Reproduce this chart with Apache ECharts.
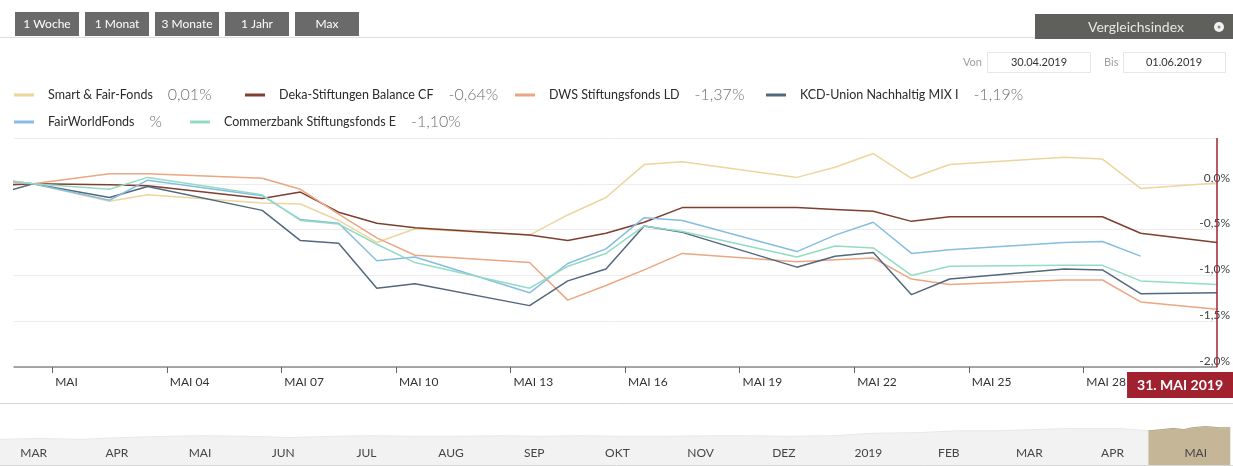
<!DOCTYPE html>
<html>
<head>
<meta charset="utf-8">
<title>Fondsvergleich</title>
<script src="https://cdn.jsdelivr.net/npm/echarts@6/dist/echarts.min.js"></script>
<style>
  html, body { margin: 0; padding: 0; background: #fff; }
  #chart { width: 1233px; height: 466px; }
</style>
</head>
<body>
<div id="chart"></div>
<script>
// Handelstage, Wertentwicklung in % (30.04.2019 = 0)
var dates = ['2019-04-29','2019-04-30','2019-05-02','2019-05-03','2019-05-06','2019-05-07','2019-05-08',
  '2019-05-09','2019-05-10','2019-05-13','2019-05-14','2019-05-15','2019-05-16','2019-05-17','2019-05-20',
  '2019-05-21','2019-05-22','2019-05-23','2019-05-24','2019-05-27','2019-05-28','2019-05-29','2019-05-31'];

var smartFair   = [0.03, 0, -0.19, -0.12, -0.21, -0.22, -0.40, -0.64, -0.49, -0.56, -0.34, -0.15, 0.21, 0.24, 0.07, 0.18, 0.33, 0.06, 0.21, 0.29, 0.27, -0.05, 0.01];
var dekaBalance = [-0.02, 0, -0.01, -0.02, -0.16, -0.09, -0.31, -0.43, -0.48, -0.56, -0.62, -0.54, -0.42, -0.26, -0.26, -0.28, -0.30, -0.41, -0.36, -0.36, -0.36, -0.54, -0.64];
var dwsLD       = [0.02, 0, 0.11, 0.11, 0.06, -0.06, -0.33, -0.59, -0.78, -0.86, -1.27, -1.11, -0.94, -0.76, -0.85, -0.83, -0.81, -1.04, -1.10, -1.05, -1.05, -1.29, -1.37];
var kcdUnion    = [-0.12, 0, -0.15, -0.03, -0.29, -0.62, -0.65, -1.14, -1.09, -1.33, -1.06, -0.93, -0.46, -0.53, -0.91, -0.79, -0.75, -1.21, -1.04, -0.93, -0.94, -1.20, -1.19];
var fairWorld   = [0.05, 0, -0.18, 0.04, -0.13, -0.39, -0.43, -0.84, -0.80, -1.19, -0.87, -0.71, -0.37, -0.40, -0.74, -0.56, -0.42, -0.76, -0.72, -0.64, -0.63, -0.79, null];
var commerzbank = [0.06, 0, -0.06, 0.07, -0.12, -0.40, -0.44, -0.66, -0.86, -1.14, -0.90, -0.76, -0.46, -0.52, -0.80, -0.68, -0.70, -1.00, -0.90, -0.89, -0.89, -1.06, -1.10];

var seriesNames = ['Smart & Fair-Fonds', 'Deka-Stiftungen Balance CF', 'DWS Stiftungsfonds LD',
  'KCD-Union Nachhaltig MIX I', 'FairWorldFonds', 'Commerzbank Stiftungsfonds E'];
var seriesValues = [smartFair, dekaBalance, dwsLD, kcdUnion, fairWorld, commerzbank];
var legendValues = ['0,01%', '-0,64%', '-1,37%', '-1,19%', '%', '-1,10%'];
var seriesColors = ['#ecd69e', '#7e3f30', '#eba683', '#52687e', '#86bde0', '#93dbc4'];

var xTickDates  = ['2019-05-01','2019-05-04','2019-05-07','2019-05-10','2019-05-13','2019-05-16','2019-05-19','2019-05-22','2019-05-25','2019-05-28'];
var xTickLabels = ['MAI','MAI 04','MAI 07','MAI 10','MAI 13','MAI 16','MAI 19','MAI 22','MAI 25','MAI 28'];
var yTicks      = [-2, -1.5, -1, -0.5, 0, 0.5];
var yTickLabels = ['-2,0%', '-1,5%', '-1,0%', '-0,5%', '0,0%', ''];
var pointerLabel = '31. MAI 2019';

// Navigator (Gesamtverlauf)
var navDates = ['2018-03-06','2018-03-20','2018-04-05','2018-04-20','2018-05-05','2018-05-20','2018-06-05','2018-06-20',
  '2018-07-05','2018-07-20','2018-08-05','2018-08-20','2018-09-05','2018-09-20','2018-10-05','2018-10-20',
  '2018-11-05','2018-11-20','2018-12-05','2018-12-20','2019-01-05','2019-01-20','2019-02-05','2019-02-20',
  '2019-03-05','2019-03-20','2019-04-05','2019-04-20','2019-05-01','2019-05-06','2019-05-10','2019-05-14',
  '2019-05-17','2019-05-22','2019-05-27','2019-05-31'];
var navValues = [42, 43.5, 42, 45, 47, 48, 47, 45, 47, 48, 47, 47, 48, 47, 48, 47,
  47, 48, 48, 47, 48, 52, 53, 56, 56, 58, 60, 60, 56, 58, 60, 58, 61, 63, 61, 61];
var navMonths = ['2018-03-01','2018-04-01','2018-05-01','2018-06-01','2018-07-01','2018-08-01','2018-09-01','2018-10-01',
  '2018-11-01','2018-12-01','2019-01-01','2019-02-01','2019-03-01','2019-04-01','2019-05-01','2019-06-01'];
var navMonthLabels = ['MAR','APR','MAI','JUN','JUL','AUG','SEP','OKT','NOV','DEZ','2019','FEB','MAR','APR','MAI'];
var navStart = '2018-03-06', navEnd = '2019-06-01', selectedFrom = '2019-05-01';

var rangeButtons = ['1 Woche', '1 Monat', '3 Monate', '1 Jahr', 'Max'];

function dayOf(s) { return (Date.parse(s) - Date.parse('2019-05-01')) / 86400000; }

var xTicks = xTickDates.map(dayOf);
var lastX = dayOf(dates[dates.length - 1]) + 0.5;
var navMid = navMonthLabels.map(function (m, i) { return (dayOf(navMonths[i]) + dayOf(navMonths[i + 1])) / 2; });

var chart = echarts.init(document.getElementById('chart'));

var series = seriesNames.map(function (name, k) {
  var pts = [];
  dates.forEach(function (d, i) {
    if (seriesValues[k][i] != null) pts.push([dayOf(d) + 0.5, seriesValues[k][i]]);
  });
  return {
    name: name, type: 'line', data: pts, symbol: 'none', color: seriesColors[k],
    lineStyle: { width: 1.5 }, z: 3
  };
});

var navAll = navDates.map(function (d, i) { return [dayOf(d), navValues[i]]; });
var navSel = navAll.filter(function (p, i) { return navDates[i] >= selectedFrom; });
series.push({
  type: 'line', xAxisIndex: 1, yAxisIndex: 1, data: navAll, symbol: 'none', silent: true, z: 1,
  lineStyle: { color: '#e8e8e8', width: 1 }, areaStyle: { color: '#f2f2f2', opacity: 1 }
});
series.push({
  type: 'line', xAxisIndex: 1, yAxisIndex: 1, data: navSel, symbol: 'none', silent: true, z: 1,
  lineStyle: { color: '#b4a584', width: 1 }, areaStyle: { color: '#c4b697', opacity: 1 }
});

var legendPos = [[14, 87], [245, 87], [515, 87], [766, 87], [14, 114], [190, 114]];
var legends = seriesNames.map(function (name, k) {
  return {
    data: [name], left: legendPos[k][0], top: legendPos[k][1], padding: 0,
    icon: 'rect', itemWidth: 20, itemHeight: 3, selectedMode: false,
    formatter: function (n) { return '{n|' + n + '}{v|' + legendValues[seriesNames.indexOf(n)] + '}'; },
    textStyle: {
      rich: {
        n: { fontFamily: 'Lato', fontSize: 12.5, color: '#2b2b2b', padding: [0, 0, 0, 9] },
        v: { fontFamily: 'Lato', fontSize: 16, fontWeight: 300, color: '#707070', padding: [0, 0, 0, 15] }
      }
    }
  };
});

var graphics = [
  { type: 'line', shape: { x1: 0, y1: 37.5, x2: 1233, y2: 37.5 }, style: { stroke: '#dddddd', lineWidth: 1 } },
  { type: 'rect', shape: { x: 1035, y: 14, width: 198, height: 25 }, style: { fill: '#5f5f5b' } },
  { type: 'text', x: 1136, y: 27, style: { text: 'Vergleichsindex', fill: '#e6e6e6', font: '14px Lato', align: 'center', verticalAlign: 'middle' } },
  { type: 'circle', shape: { cx: 1219, cy: 27, r: 5 }, style: { fill: '#f2f2f2' } },
  { type: 'circle', shape: { cx: 1219, cy: 27, r: 1.5 }, style: { fill: '#8a8a8a' } },
  { type: 'text', x: 982, y: 62, style: { text: 'Von', fill: '#a0a0a0', font: '11px Lato', align: 'right', verticalAlign: 'middle' } },
  { type: 'rect', shape: { x: 987.5, y: 52.5, width: 103, height: 20 }, style: { fill: '#fff', stroke: '#e6e6e6' } },
  { type: 'text', x: 1039, y: 62.5, style: { text: '30.04.2019', fill: '#333', font: '11px Lato', align: 'center', verticalAlign: 'middle' } },
  { type: 'text', x: 1104, y: 62, style: { text: 'Bis', fill: '#a0a0a0', font: '11px Lato', align: 'left', verticalAlign: 'middle' } },
  { type: 'rect', shape: { x: 1123.5, y: 52.5, width: 102, height: 20 }, style: { fill: '#fff', stroke: '#e6e6e6' } },
  { type: 'text', x: 1174, y: 62.5, style: { text: '01.06.2019', fill: '#333', font: '11px Lato', align: 'center', verticalAlign: 'middle' } },
  { type: 'line', shape: { x1: 0, y1: 403.5, x2: 1233, y2: 403.5 }, style: { stroke: '#d6d6d6', lineWidth: 1 } }
];
rangeButtons.forEach(function (b, i) {
  graphics.push({ type: 'rect', shape: { x: 15 + i * 70, y: 12, width: 64, height: 24 }, style: { fill: '#6a6a6a' } });
  graphics.push({ type: 'text', x: 47 + i * 70, y: 24, style: { text: b, fill: '#ffffff', font: '12px Lato', align: 'center', verticalAlign: 'middle' } });
});

chart.setOption({
  animation: false,
  backgroundColor: '#ffffff',
  legend: legends,
  graphic: graphics,
  grid: [
    { left: 14, right: 16, top: 138, bottom: 99 },
    { left: 0, right: 0, top: 404, bottom: 1 }
  ],
  xAxis: [{
    type: 'value', gridIndex: 0, min: -1, max: lastX,
    axisLine: { onZero: false, lineStyle: { color: '#8a8a8a', width: 1.5 } },
    axisTick: { show: true, length: 6, customValues: xTicks, lineStyle: { color: '#666' } },
    splitLine: { show: false },
    axisLabel: {
      customValues: xTicks, align: 'left', margin: 9, padding: [0, 0, 0, 3],
      fontFamily: 'Lato', fontSize: 12, color: '#333',
      formatter: function (v) { var i = xTicks.indexOf(v); return i < 0 ? '' : xTickLabels[i]; }
    },
    axisPointer: {
      show: true, type: 'line', value: lastX, status: 'show', snap: false,
      lineStyle: { color: '#9b2433', width: 1.5, type: 'solid' },
      label: {
        show: true, formatter: function () { return pointerLabel; }, margin: 5,
        backgroundColor: '#a1212f', color: '#ffffff', fontFamily: 'Lato', fontSize: 14, fontWeight: 'bold',
        padding: [6, 10, 6, 10], borderRadius: 0
      }
    }
  }, {
    type: 'value', gridIndex: 1, min: dayOf(navStart), max: dayOf(navEnd), z: 5,
    axisLine: { show: true, onZero: false, lineStyle: { color: '#d8d8d8' } },
    axisTick: { show: false },
    splitLine: { show: false },
    axisLabel: {
      inside: true, customValues: navMid, margin: 6, verticalAlign: 'bottom', padding: [0, 0, 0, 10],
      fontFamily: 'Lato', fontSize: 12, color: '#454545',
      formatter: function (v) { var i = navMid.indexOf(v); return i < 0 ? '' : navMonthLabels[i]; }
    }
  }],
  yAxis: [{
    type: 'value', gridIndex: 0, position: 'right', min: -2, max: 0.5, interval: 0.5,
    axisLine: { show: false }, axisTick: { show: false },
    splitLine: { lineStyle: { color: '#ececec', width: 1 } },
    axisLabel: {
      align: 'right', margin: 13, verticalAlign: 'bottom',
      fontFamily: 'Lato', fontSize: 12, color: '#444',
      formatter: function (v) {
        var i = yTicks.findIndex(function (t) { return Math.abs(t - v) < 1e-9; });
        return i < 0 ? '' : yTickLabels[i];
      }
    }
  }, {
    type: 'value', gridIndex: 1, min: 0, max: 100, show: false
  }],
  series: series
});
</script>
</body>
</html>
